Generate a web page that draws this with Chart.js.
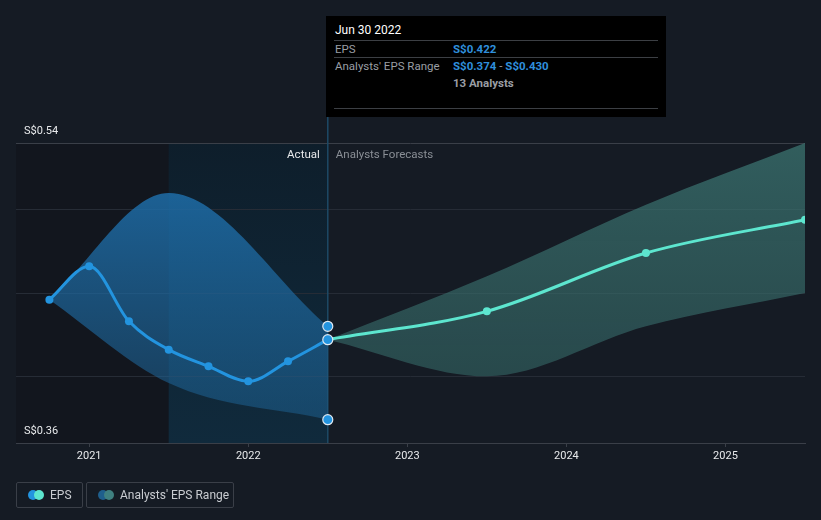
<!DOCTYPE html>
<html>
<head>
<meta charset="utf-8">
<script src="https://cdn.jsdelivr.net/npm/chart.js@4.4.1/dist/chart.umd.min.js"></script>
<style>
  html, body { margin: 0; padding: 0; background: #151b24; }
  body { width: 821px; height: 520px; position: relative; overflow: hidden; font-family: Roboto, "Noto Sans", sans-serif; }
  #wrap { position: absolute; left: 0; top: 0; width: 821px; height: 520px; }
  #tip { position: absolute; left: 326px; top: 16px; width: 340px; height: 101px; background: #000; }
  #tip .t { position: absolute; left: 9px; top: 7px; color: #fff; font-size: 12px; }
  #tip .sep { position: absolute; left: 8px; right: 8px; height: 1px; background: #3c3f44; }
  #tip .l { position: absolute; left: 9px; color: #9a9ea4; font-size: 11.5px; }
  #tip .v { position: absolute; left: 127px; color: #2f8fdc; font-size: 11.5px; font-weight: bold; }
  #tip .g { color: #9a9ea4; font-weight: normal; }
  #tip .a { position: absolute; left: 127px; color: #9a9ea4; font-size: 11.5px; font-weight: bold; }
  .leg { position: absolute; top: 482px; height: 26px; border: 1px solid #3a3f48; border-radius: 2px; box-sizing: border-box; color: #c9ccd1; font-size: 12px; line-height: 24px; }
  .leg .d1, .leg .d2 { position: absolute; top: 7px; width: 10px; height: 10px; border-radius: 50%; }
  .leg span.tx { position: absolute; left: 33px; top: 0; white-space: nowrap; }
</style>
</head>
<body>
<div id="wrap"><canvas id="c" width="821" height="520"></canvas></div>
<div id="tip">
  <div class="t">Jun 30 2022</div>
  <div class="sep" style="top:24px"></div>
  <div class="l" style="top:26px">EPS</div>
  <div class="v" style="top:26px">S$0.422</div>
  <div class="sep" style="top:41px"></div>
  <div class="l" style="top:43px">Analysts' EPS Range</div>
  <div class="v" style="top:43px">S$0.374 <span class="g">-</span> S$0.430</div>
  <div class="a" style="top:60px">13 Analysts</div>
  <div class="sep" style="top:92px"></div>
</div>
<div class="leg" style="left:16px;width:67px;">
  <div class="d1" style="left:11px;background:#2394df"></div>
  <div class="d2" style="left:17px;background:#5de6cf"></div>
  <span class="tx">EPS</span>
</div>
<div class="leg" style="left:86px;width:148px;">
  <div class="d1" style="left:11px;background:#1f5f8c"></div>
  <div class="d2" style="left:17px;background:#3f8080"></div>
  <span class="tx">Analysts' EPS Range</span>
</div>
<script>
// ---- data (x in decimal years) ----
const pastDates   = [2020.75, 2021.0, 2021.25, 2021.5, 2021.75, 2022.0, 2022.25, 2022.5];
const pastEPS     = [0.446, 0.466, 0.433, 0.416, 0.406, 0.397, 0.409, 0.422];
const pastRangeDates = [2020.75, 2021.5, 2022.5];
const pastRangeHigh  = [0.446, 0.510, 0.430];
const pastRangeLow   = [0.446, 0.396, 0.374];
const fcDates     = [2022.5, 2023.5, 2024.5, 2025.5];
const fcEPS       = [0.422, 0.439, 0.474, 0.494];
const fcHigh      = [0.422, 0.460, 0.503, 0.540];
const fcLow       = [0.422, 0.400, 0.430, 0.450];
const yearTicks   = [2021, 2022, 2023, 2024, 2025];
const yTicks      = [0.36, 0.40, 0.45, 0.50, 0.54];
const yLabelled   = [0.36, 0.54];
const markerDate  = 2022.5;
const markerVals  = [0.430, 0.374];

const pts = (xs, ys) => xs.map((x, i) => ({x, y: ys[i]}));

function vGrad(ctx, area, stops) {
  const g = ctx.createLinearGradient(0, area.top, 0, area.bottom);
  stops.forEach(s => g.addColorStop(s[0], s[1]));
  return g;
}

const bgPlugin = {
  id: 'bg',
  beforeDraw(chart) {
    const {ctx, chartArea: a, scales: {x}} = chart;
    const x1 = x.getPixelForValue(2021.5), x2 = x.getPixelForValue(2022.5);
    ctx.save();
    ctx.fillStyle = '#12161e';
    ctx.fillRect(a.left, a.top, x1 - a.left, a.bottom - a.top);
    ctx.fillStyle = vGrad(ctx, a, [[0, '#0e1e2b'], [1, '#102a3c']]);
    ctx.fillRect(x1, a.top, x2 - x1, a.bottom - a.top);
    ctx.restore();
  }
};

const overlayPlugin = {
  id: 'overlay',
  afterDraw(chart) {
    const {ctx, chartArea: a, scales: {x}} = chart;
    const xm = x.getPixelForValue(markerDate);
    ctx.save();
    ctx.font = '11.5px Roboto, sans-serif';
    ctx.textBaseline = 'middle';
    ctx.textAlign = 'right';
    ctx.fillStyle = '#e6e8ea';
    ctx.fillText('Actual', xm - 8, a.top + 12);
    ctx.textAlign = 'left';
    ctx.fillStyle = '#8a8f96';
    ctx.fillText('Analysts Forecasts', xm + 8, a.top + 12);
    ctx.restore();
  },
  beforeDatasetsDraw(chart) {
    const {ctx, chartArea: a, scales: {x}} = chart;
    const xm = x.getPixelForValue(markerDate);
    ctx.save();
    ctx.strokeStyle = '#1d4a66';
    ctx.lineWidth = 1.5;
    ctx.beginPath();
    ctx.moveTo(xm, 117);
    ctx.lineTo(xm, a.bottom);
    ctx.stroke();
    ctx.restore();
  }
};

new Chart(document.getElementById('c'), {
  type: 'line',
  data: {
    datasets: [
      { // 0 past high
        order: 10,
        data: pts(pastRangeDates, pastRangeHigh),
        borderWidth: 0, pointRadius: 0, cubicInterpolationMode: 'monotone',
        fill: 1,
        backgroundColor: (c) => { const a = c.chart.chartArea; if (!a) return 'rgba(0,0,0,0)'; return vGrad(c.chart.ctx, a, [[0.15, 'rgba(30,110,170,0.85)'], [1, 'rgba(30,100,150,0.45)']]); }
      },
      { // 1 past low
        order: 11,
        data: pts(pastRangeDates, pastRangeLow),
        borderWidth: 0, pointRadius: 0, cubicInterpolationMode: 'monotone', fill: false
      },
      { // 2 forecast high
        order: 12,
        data: pts(fcDates, fcHigh),
        borderWidth: 0, pointRadius: 0, cubicInterpolationMode: 'monotone',
        fill: 3,
        backgroundColor: (c) => { const a = c.chart.chartArea; if (!a) return 'rgba(0,0,0,0)'; return vGrad(c.chart.ctx, a, [[0, 'rgba(62,122,118,0.7)'], [1, 'rgba(50,95,95,0.6)']]); }
      },
      { // 3 forecast low
        order: 13,
        data: pts(fcDates, fcLow),
        borderWidth: 0, pointRadius: 0, cubicInterpolationMode: 'monotone', fill: false
      },
      { // 4 forecast EPS
        order: 2,
        data: pts(fcDates, fcEPS),
        borderColor: '#5de6cf', borderWidth: 3, cubicInterpolationMode: 'monotone',
        pointRadius: [0, 4, 4, 4], pointBackgroundColor: '#5de6cf', pointBorderWidth: 0, fill: false
      },
      { // 5 past EPS
        order: 1,
        data: pts(pastDates, pastEPS),
        borderColor: '#2394df', borderWidth: 3, cubicInterpolationMode: 'monotone',
        pointRadius: [4, 4, 4, 4, 4, 4, 4, 5], pointBackgroundColor: '#2394df',
        pointBorderColor: ['#2394df','#2394df','#2394df','#2394df','#2394df','#2394df','#2394df','#dfe8f0'],
        pointBorderWidth: [0, 0, 0, 0, 0, 0, 0, 1.2], fill: false
      },
      { // 6 range markers
        order: 0,
        data: markerVals.map(v => ({x: markerDate, y: v})),
        showLine: false, pointRadius: 5, pointBackgroundColor: '#2394df',
        pointBorderColor: '#dfe8f0', pointBorderWidth: 1.2, fill: false
      }
    ]
  },
  options: {
    responsive: false,
    animation: false,
    events: [],
    layout: { padding: { top: 143, left: 16, right: 16, bottom: 50 } },
    plugins: { legend: { display: false }, tooltip: { enabled: false } },
    scales: {
      x: {
        type: 'linear', min: 2020.54, max: 2025.5,
        afterBuildTicks: (s) => { s.ticks = yearTicks.map(v => ({value: v})); },
        afterFit: (s) => { s.height = 27; },
        ticks: { color: '#e8eaec', font: { family: 'Roboto', size: 11 }, padding: 3, maxRotation: 0,
                 callback: (v) => String(v) },
        grid: { drawOnChartArea: false, drawTicks: true, tickLength: 4, color: '#3a3f48' },
        border: { display: true, color: '#3a3f48', width: 1 }
      },
      y: {
        type: 'linear', min: 0.36, max: 0.54,
        afterBuildTicks: (s) => { s.ticks = yTicks.map(v => ({value: v})); },
        afterFit: (s) => { s.width = 0; },
        ticks: { mirror: true, padding: 8, labelOffset: -12, autoSkip: false, color: '#e8eaec',
                 font: { family: 'Roboto', size: 11 },
                 callback: (v) => yLabelled.some(t => Math.abs(t - v) < 1e-6) ? 'S$' + v.toFixed(2) : '' },
        grid: { drawTicks: false, color: (c) => (c.tick && Math.abs(c.tick.value - 0.54) < 1e-6) ? '#3a3f48' : '#262c36', lineWidth: 1 },
        border: { display: false }
      }
    }
  },
  plugins: [bgPlugin, overlayPlugin]
});
</script>
</body>
</html>
